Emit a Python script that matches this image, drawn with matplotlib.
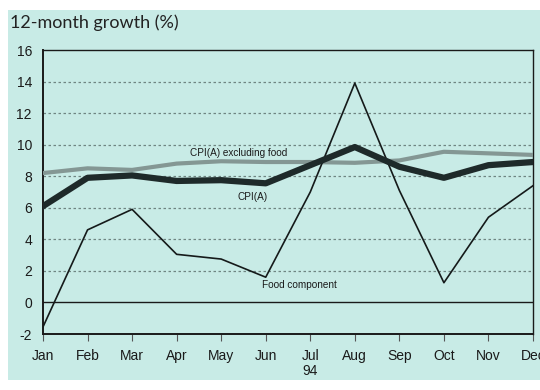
import matplotlib
matplotlib.use("Agg")
import matplotlib.pyplot as plt
from matplotlib.patches import Rectangle

months = ["Jan", "Feb", "Mar", "Apr", "May", "Jun", "Jul", "Aug", "Sep", "Oct", "Nov", "Dec"]
cpi_ex_food = [8.2, 8.5, 8.4, 8.8, 8.95, 8.9, 8.9, 8.85, 9.0, 9.55, 9.45, 9.35]
cpi = [6.1, 7.9, 8.05, 7.7, 7.75, 7.55, 8.7, 9.85, 8.6, 7.9, 8.7, 8.9]
food = [-1.55, 4.6, 5.9, 3.05, 2.75, 1.6, 7.0, 13.9, 7.1, 1.25, 5.4, 7.4]
y_ticks = [-2, 0, 2, 4, 6, 8, 10, 12, 14, 16]

plt.rcParams["axes.unicode_minus"] = False

bg = "#c8ebe6"
W, H = 540, 390

fig = plt.figure(figsize=(5.4, 3.9), dpi=100, facecolor="white")
# tinted panel behind the chart
fig.patches.append(Rectangle((8 / W, 1 - 380 / H), 532 / W, 370 / H,
                             transform=fig.transFigure, facecolor=bg,
                             edgecolor="none", zorder=-10))

ax = fig.add_axes([43 / W, 1 - 334 / H, 490 / W, 284 / H])
ax.set_zorder(5)
ax.set_facecolor(bg)
x = list(range(len(months)))

for yv in y_ticks[2:-1]:
    ax.axhline(yv, color="#6f8582", lw=0.9, ls=(0, (2, 2)), zorder=1)
ax.axhline(0, color="#1a1a1a", lw=1.0, zorder=2)

ax.plot(x, cpi_ex_food, color="#849794", lw=3.0, solid_joinstyle="round", zorder=3)
ax.plot(x, food, color="#151a1a", lw=1.2, zorder=4)
ax.plot(x, cpi, color="#1e2a2a", lw=4.5, solid_joinstyle="round", zorder=5)

ax.set_xlim(0, 11)
ax.set_ylim(-2, 16)
ax.set_yticks(y_ticks)
ax.set_xticks(x)
ax.set_xticklabels(months)
for s in ax.spines.values():
    s.set_color("#1a1a1a")
    s.set_linewidth(1.0)
ax.spines["left"].set_linewidth(1.4)
ax.spines["bottom"].set_linewidth(1.4)
ax.tick_params(axis="x", direction="out", length=5, width=0.8, color="#555555",
               labelsize=10, pad=6)
ax.tick_params(axis="y", length=0, labelsize=10, pad=8)
for lab in ax.get_xticklabels() + ax.get_yticklabels():
    lab.set_family("Liberation Sans")
    lab.set_color("#1a1a1a")

lab_kw = dict(fontsize=7.2, family="Liberation Sans", color="#1a1a1a", zorder=6)
ax.text(4.4, 9.45, "CPI(A) excluding food", ha="center", va="center", **lab_kw)
ax.text(4.71, 6.68, "CPI(A)", ha="center", va="center", **lab_kw)
ax.text(5.76, 1.1, "Food component", ha="center", va="center", **lab_kw)

fig.text(310 / W, 1 - 371 / H, "94", ha="center", va="center", fontsize=10,
         family="Liberation Sans", color="#1a1a1a")
fig.text(10 / W, 1 - 23 / H, "12-month growth (%)", ha="left", va="center",
         fontsize=13, family="Lato", color="#222222")

fig.savefig("out.png", dpi=100, facecolor="white")
